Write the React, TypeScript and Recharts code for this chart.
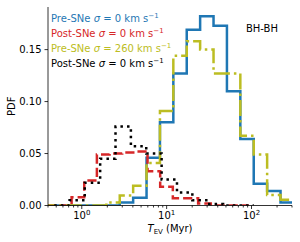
import { LineChart, Line, XAxis, YAxis, Legend } from 'recharts'

const FONT = '"DejaVu Sans", sans-serif'

// bin edges (Myr) used by the pre-SNe histograms
const preEdges = [0.316, 0.455, 0.654, 0.941, 1.354, 1.948, 2.802, 4.031, 5.798, 8.34, 11.99, 17.25, 24.81, 35.69, 51.34, 73.85, 106.2, 152.8, 219.8, 316.2]
const preSigma0 = [0, 0, 0, 0, 0, 0, 0.003, 0.0075, 0.046, 0.08, 0.127, 0.169, 0.182, 0.173, 0.11, 0.064, 0.021, 0.014, 0.003]
const preSigma260 = [0, 0, 0, 0, 0, 0.003, 0.0096, 0.019, 0.041, 0.091, 0.144, 0.158, 0.15, 0.127, 0.127, 0.067, 0.049, 0.01, 0.0055]

// post-SNe histograms have their own bins
const postEdgesA = [0.382, 0.538, 0.759, 1.069, 1.507, 2.125, 2.996, 4.224, 5.955, 8.394, 11.83, 16.68, 23.51, 33.14, 46.72, 65.85, 92.84]
const postSigma0A = [0, 0, 0.008, 0.024, 0.049, 0.05, 0.051, 0.052, 0.033, 0.018, 0.007, 0.007, 0.002, 0, 0, 0]
const postEdgesB = [0.4735, 0.7185, 1.085, 1.647, 2.498, 3.791, 5.752, 8.727, 13.24, 20.09, 30.48, 46.25, 70.19, 106.5]
const postSigma0B = [0, 0.005, 0.022, 0.045, 0.076, 0.057, 0.05, 0.025, 0.0125, 0.005, 0.0015, 0, 0]

const legendNames = ['Pre-SNe', 'Post-SNe', 'Pre-SNe', 'Post-SNe']
const legendSigmas = ['0', '0', '260', '0']
const colors = ['#1f77b4', '#d62728', '#bcbd22', '#000000']

const xMajor = [1, 10, 100]
const xMajorExp = ['0', '1', '2']
const xMinor = [0.4, 0.5, 0.6, 0.7, 0.8, 0.9, 2, 3, 4, 5, 6, 7, 8, 9, 20, 30, 40, 50, 60, 70, 80, 90, 200, 300]
const yTicks = [0, 0.05, 0.1, 0.15]

// outline of a step histogram, like histtype='step'
const stepPoints = (edges: number[], vals: number[]) => {
  const pts = [{ x: edges[0], y: 0 }]
  vals.forEach((v, i) => pts.push({ x: edges[i], y: v }))
  pts.push({ x: edges[vals.length], y: vals[vals.length - 1] })
  pts.push({ x: edges[vals.length], y: 0 })
  return pts
}

const series = [
  { data: stepPoints(preEdges, preSigma0), color: colors[0], dash: undefined },
  { data: stepPoints(postEdgesA, postSigma0A), color: colors[1], dash: '9.2 4' },
  { data: stepPoints(preEdges, preSigma260), color: colors[2], dash: '16 4 2.5 4' },
  { data: stepPoints(postEdgesB, postSigma0B), color: colors[3], dash: '2.5 4.1' },
]

const XTick = (props: any) => {
  const { x, y, payload } = props
  const idx = xMajor.indexOf(payload.value)
  const major = idx >= 0
  return (
    <g>
      <line x1={x} x2={x} y1={y} y2={y + (major ? 3.5 : 2)} stroke="#000" strokeWidth={0.8} />
      {major && (
        <text x={x} y={y + 13} textAnchor="middle" fontSize={10} fontFamily={FONT} fill="#000">
          10<tspan dy={-4} fontSize={7}>{xMajorExp[idx]}</tspan>
        </text>
      )}
    </g>
  )
}

const LegendBox = () => (
  <div style={{ position: 'relative', width: 300, height: 242, fontFamily: FONT, fontSize: 10, pointerEvents: 'none' }}>
    {legendNames.map((name, i) => (
      <div key={i} style={{ position: 'absolute', left: 51, top: 11 + i * 15, lineHeight: '15px', color: colors[i], whiteSpace: 'nowrap' }}>
        {name} <i>σ</i> = {legendSigmas[i]} km s<span style={{ fontSize: 7, verticalAlign: '4px', lineHeight: 0 }}>−1</span>
      </div>
    ))}
    <div style={{ position: 'absolute', right: 22, top: 20.5, lineHeight: '15px', color: '#000' }}>BH-BH</div>
  </div>
)

export default function App() {
  return (
    <div style={{ position: 'fixed', left: 0, top: 0, width: 300, height: 242, background: '#fff' }}>
      <LineChart width={300} height={242} margin={{ top: 7, right: 8, bottom: 0, left: 0 }}>
        <XAxis
          dataKey="x"
          type="number"
          scale="log"
          domain={[0.4, 300]}
          allowDataOverflow
          ticks={[...xMajor, ...xMinor]}
          interval={0}
          tick={<XTick />}
          tickSize={0}
          tickMargin={0}
          tickLine={false}
          height={36.5}
          axisLine={{ stroke: '#000', strokeWidth: 0.8 }}
          label={{
            content: (p: any) => {
              const vb = p.viewBox
              return (
                <text x={vb.x + vb.width / 2} y={vb.y + 26} textAnchor="middle" fontSize={10} fontFamily={FONT} fill="#000">
                  <tspan fontStyle="italic">T</tspan>
                  <tspan fontSize={7} dy={2}>EV</tspan>
                  <tspan dy={-2}> (Myr)</tspan>
                </text>
              )
            },
          }}
        />
        <XAxis xAxisId="top" orientation="top" type="number" scale="log" domain={[0.4, 300]} height={0} tick={false} tickLine={false} axisLine={{ stroke: '#000', strokeWidth: 0.8 }} />
        <YAxis
          type="number"
          domain={[0, 0.191]}
          allowDataOverflow
          ticks={yTicks}
          tickFormatter={(v: number) => v.toFixed(2)}
          width={48}
          tickSize={3.5}
          tickMargin={3}
          tick={{ fontSize: 10, fill: '#000', fontFamily: FONT }}
          tickLine={{ stroke: '#000', strokeWidth: 0.8 }}
          axisLine={{ stroke: '#000', strokeWidth: 0.8 }}
          label={{
            content: (p: any) => {
              const vb = p.viewBox
              const cy = vb.y + vb.height / 2
              return (
                <text x={15.3} y={cy} transform={`rotate(-90 15.3 ${cy})`} textAnchor="middle" fontSize={10} fontFamily={FONT} fill="#000">
                  PDF
                </text>
              )
            },
          }}
        />
        <YAxis yAxisId="right" orientation="right" type="number" domain={[0, 0.191]} width={0} tick={false} tickLine={false} axisLine={{ stroke: '#000', strokeWidth: 0.8 }} />
        <Legend layout="vertical" align="center" verticalAlign="middle" content={<LegendBox />} wrapperStyle={{ left: 0, top: 0, width: 300, height: 242 }} />
        {series.map((s, i) => (
          <Line
            key={i}
            data={s.data}
            dataKey="y"
            type="stepAfter"
            stroke={s.color}
            strokeWidth={2.5}
            strokeDasharray={s.dash}
            strokeLinejoin="miter"
            dot={false}
            activeDot={false}
            isAnimationActive={false}
          />
        ))}
      </LineChart>
    </div>
  )
}
